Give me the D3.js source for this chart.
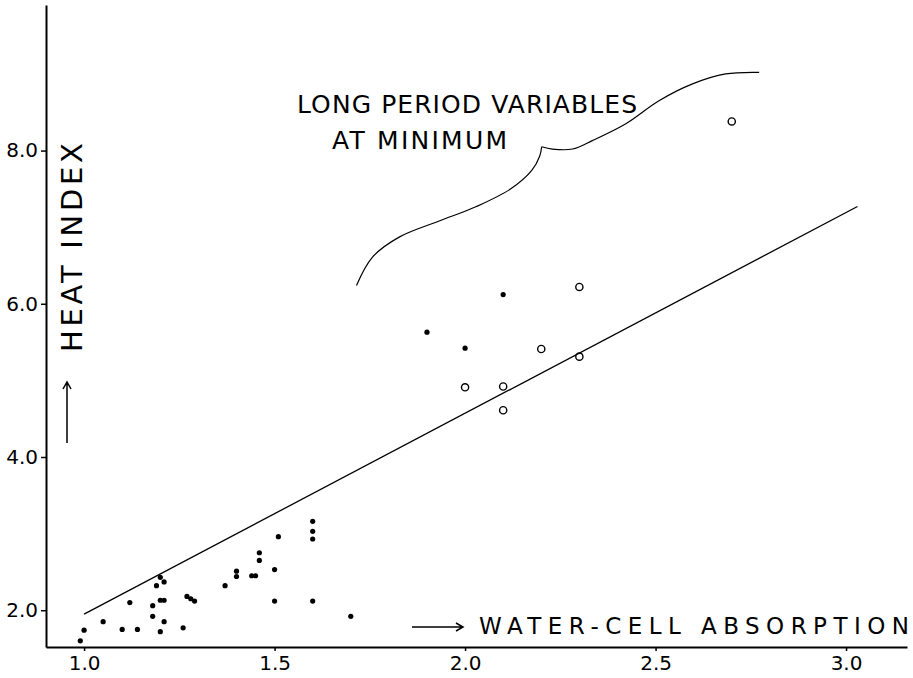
<!DOCTYPE html>
<html>
<head>
<meta charset="utf-8">
<script src="https://cdn.jsdelivr.net/npm/d3@7"></script>
<style>
  html, body { margin: 0; padding: 0; background: #fff; }
  svg { display: block; }
  text { font-family: "DejaVu Sans", sans-serif; fill: #000; }
</style>
</head>
<body>
<div id="chart"></div>
<script>
// water-cell absorption vs heat index
const dotX = [0.99, 1.00, 1.05, 1.10, 1.14, 1.12, 1.18, 1.18, 1.19, 1.20, 1.21, 1.20, 1.21, 1.20, 1.21,
  1.26, 1.27, 1.28, 1.29, 1.37, 1.40, 1.40, 1.44, 1.45, 1.46, 1.46, 1.50, 1.51, 1.50,
  1.60, 1.60, 1.60, 1.60, 1.70, 1.90, 2.00, 2.10]
const dotY = [1.60, 1.74, 1.85, 1.75, 1.75, 2.10, 2.06, 1.92, 2.32, 1.72, 1.85, 2.13, 2.13, 2.43, 2.37,
  1.77, 2.18, 2.15, 2.12, 2.32, 2.51, 2.44, 2.45, 2.45, 2.75, 2.65, 2.53, 2.96, 2.12,
  3.16, 3.03, 2.93, 2.12, 1.92, 5.63, 5.42, 6.12]

// long period variables at minimum (open circles)
const lpvX = [2.00, 2.10, 2.10, 2.20, 2.30, 2.30, 2.70]
const lpvY = [4.91, 4.92, 4.61, 5.41, 5.31, 6.22, 8.38]

// fitted line
const fitX = [1.00, 3.03]
const fitY = [1.95, 7.27]

// brace round the variables, two arms meeting at the point
const braceLeftX = [1.715, 1.757, 1.827, 1.932, 2.030, 2.120, 2.175, 2.196, 2.201]
const braceLeftY = [6.24, 6.61, 6.87, 7.08, 7.27, 7.50, 7.74, 7.93, 8.05]
const braceRightX = [2.201, 2.229, 2.282, 2.334, 2.422, 2.509, 2.597, 2.684, 2.772]
const braceRightY = [8.05, 8.02, 8.02, 8.13, 8.35, 8.65, 8.87, 9.00, 9.02]

const xTicks = [1.0, 1.5, 2.0, 2.5, 3.0]
const yTicks = [2.0, 4.0, 6.0, 8.0]

const width = 913, height = 678
const plotLeft = 46, plotRight = 907, plotTop = 5, plotBottom = 647

const x = d3.scaleLinear().domain([0.9, 3.16]).range([plotLeft, plotRight])
const y = d3.scaleLinear().domain([1.52, 9.9]).range([plotBottom, plotTop])

const svg = d3.select('#chart').append('svg')
    .attr('width', width)
    .attr('height', height)

// axes
const xAxis = svg.append('g')
    .attr('transform', `translate(0,${plotBottom})`)
    .call(d3.axisBottom(x).tickValues(xTicks).tickFormat(d3.format('.1f'))
        .tickSize(4).tickSizeOuter(0).tickPadding(5))

const yAxis = svg.append('g')
    .attr('transform', `translate(${plotLeft},0)`)
    .call(d3.axisLeft(y).tickValues(yTicks).tickFormat(d3.format('.1f'))
        .tickSize(5).tickSizeOuter(0).tickPadding(3))

;[xAxis, yAxis].forEach(g => {
    g.attr('font-size', null).attr('font-family', null)
    g.select('.domain').attr('stroke', '#000').attr('stroke-width', 2)
    g.selectAll('.tick line').attr('stroke', '#000').attr('stroke-width', 1.5)
    g.selectAll('.tick text')
        .style('font-size', '20px')
        .attr('fill', '#000')
})

// fitted line
const line = d3.line().x(d => x(d[0])).y(d => y(d[1]))
svg.append('path')
    .attr('d', line(d3.zip(fitX, fitY)))
    .attr('fill', 'none')
    .attr('stroke', '#000')
    .attr('stroke-width', 1.3)

// brace
const curve = d3.line().x(d => x(d[0])).y(d => y(d[1])).curve(d3.curveCatmullRom)
;[[braceLeftX, braceLeftY], [braceRightX, braceRightY]].forEach(([bx, by]) => {
    svg.append('path')
        .attr('d', curve(d3.zip(bx, by)))
        .attr('fill', 'none')
        .attr('stroke', '#000')
        .attr('stroke-width', 1.2)
})

// points
svg.append('g').selectAll('circle')
    .data(d3.zip(dotX, dotY))
    .join('circle')
    .attr('cx', d => x(d[0]))
    .attr('cy', d => y(d[1]))
    .attr('r', 2.6)
    .attr('fill', '#000')

svg.append('g').selectAll('circle')
    .data(d3.zip(lpvX, lpvY))
    .join('circle')
    .attr('cx', d => x(d[0]))
    .attr('cy', d => y(d[1]))
    .attr('r', 3.6)
    .attr('fill', 'none')
    .attr('stroke', '#000')
    .attr('stroke-width', 1.4)

// labels, spaced out like the hand lettering
const label = (t, px, py, size, len) => svg.append('text')
    .attr('x', px).attr('y', py)
    .attr('font-size', size)
    .attr('textLength', len).attr('lengthAdjust', 'spacing')
    .text(t)

label('LONG PERIOD VARIABLES', 297, 113, 25, 340)
label('AT MINIMUM', 332, 149, 25, 175)
label('WATER-CELL ABSORPTION', 479, 634, 23, 430)

svg.append('text')
    .attr('transform', 'translate(82,352) rotate(-90)')
    .attr('font-size', 29)
    .attr('textLength', 209).attr('lengthAdjust', 'spacing')
    .text('HEAT INDEX')

// hand-drawn arrows next to the axis titles
const arrows = svg.append('g').attr('stroke', '#000').attr('stroke-width', 1.5).attr('fill', 'none')
arrows.append('path').attr('d', 'M412,627 H463 M456,623 L463,627 L456,631')
arrows.append('path').attr('d', 'M67,443 V382 M63,389 L67,382 L71,389')
</script>
</body>
</html>
